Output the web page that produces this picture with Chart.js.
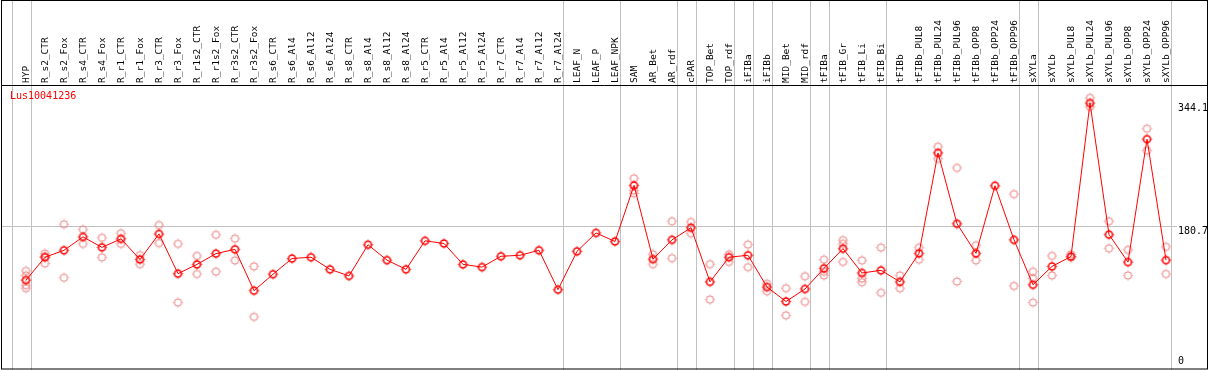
<!DOCTYPE html>
<html>
<head>
<meta charset="utf-8">
<script src="https://cdn.jsdelivr.net/npm/chart.js@4.4.1/dist/chart.umd.min.js"></script>
<style>
  html, body { margin: 0; padding: 0; background: #fff; }
  #wrap { width: 1209px; height: 370px; }
</style>
</head>
<body>
<div id="wrap"><canvas id="expr-chart" width="1209" height="370"></canvas></div>
<script>
const geneName = 'Lus10041236';

const categories = [
    'HYP', 'R_s2_CTR', 'R_s2_Fox', 'R_s4_CTR', 'R_s4_Fox', 'R_r1_CTR', 'R_r1_Fox', 'R_r3_CTR', 'R_r3_Fox',
    'R_r1s2_CTR', 'R_r1s2_Fox', 'R_r3s2_CTR', 'R_r3s2_Fox', 'R_s6_CTR', 'R_s6_Al4', 'R_s6_Al12', 'R_s6_Al24',
    'R_s8_CTR', 'R_s8_Al4', 'R_s8_Al12', 'R_s8_Al24', 'R_r5_CTR', 'R_r5_Al4', 'R_r5_Al12', 'R_r5_Al24',
    'R_r7_CTR', 'R_r7_Al4', 'R_r7_Al12', 'R_r7_Al24', 'LEAF_N', 'LEAF_P', 'LEAF_NPK', 'SAM', 'AR_Bet', 'AR_rdf',
    'cPAR', 'TOP_Bet', 'TOP_rdf', 'iFIBa', 'iFIBb', 'MID_Bet', 'MID_rdf', 'tFIBa', 'tFIB_Gr', 'tFIB_Li', 'tFIB_Bi',
    'tFIBb', 'tFIBb_PUL8', 'tFIBb_PUL24', 'tFIBb_PUL96', 'tFIBb_OPP8', 'tFIBb_OPP24', 'tFIBb_OPP96', 'sXYLa',
    'sXYLb', 'sXYLb_PUL8', 'sXYLb_PUL24', 'sXYLb_PUL96', 'sXYLb_OPP8', 'sXYLb_OPP24', 'sXYLb_OPP96'
];

// mean expression per sample
const means = [
    108.8, 139.2, 148.4, 166.2, 152.3, 163.6, 136.2, 170.2, 117.4, 129.7, 144.0, 149.7, 94.8,
    116.6, 137.5, 139.2, 123.1, 114.4, 155.8, 135.3, 123.1, 161.0, 157.5, 129.7, 126.1, 140.5, 141.8, 148.4, 96.1,
    147.0, 171.5, 160.1, 234.6, 136.6, 162.3, 178.4, 106.5, 139.2, 141.8, 99.6, 80.4, 97.0, 124.4, 150.6, 118.3, 121.8, 106.5,
    144.4, 277.8, 183.7, 144.4, 234.2, 162.3, 102.6, 127.0, 140.1, 344.1, 169.3, 132.7, 296.1, 135.3
];

// individual replicates, one small list per sample
const replicates = [
    [121, 115, 102, 98], [144, 140, 131], [183, 112], [176, 157], [165, 139], [171, 157], [142, 130],
    [182, 158], [157, 79], [141, 117], [169, 120], [164, 135], [127, 60],
    [], [], [], [], [], [], [], [], [], [], [], [], [], [], [], [], [], [], [],
    [244, 228, 224], [143, 130], [187, 138], [186, 171], [130, 83], [143, 133], [156, 126], [104, 94],
    [98, 62], [114, 80], [136, 120, 115], [162, 157, 133], [135, 111, 106], [152, 92], [115, 98],
    [152, 136], [286, 270], [258, 107], [155, 135], [], [223, 101], [120, 111, 79], [141, 115],
    [143, 139], [351, 339], [187, 151], [149, 115], [310, 281], [153, 117]
];

const yTicks = [0, 180.7, 344.1];
// a grey separator is drawn after each of these samples (-1 = before the first)
const groupEnds = [-1, 0, 28, 31, 34, 35, 37, 38, 39, 41, 42, 45, 52, 53, 60];

const monoFont = "'DejaVu Sans Mono', monospace";

function makeMarker(colour, width) {
    // small circle with four tick marks, like the original plot symbol
    let c = document.createElement('canvas');
    c.width = 15;
    c.height = 15;
    let ctx = c.getContext('2d');
    ctx.strokeStyle = colour;
    ctx.lineWidth = width;
    ctx.beginPath();
    ctx.arc(7.5, 7.5, 3.5, 0, Math.PI * 2);
    ctx.stroke();
    ctx.lineWidth = 1;
    ctx.beginPath();
    ctx.moveTo(7.5, 2.5); ctx.lineTo(7.5, 3.5);
    ctx.moveTo(7.5, 11.5); ctx.lineTo(7.5, 12.5);
    ctx.moveTo(2.5, 7.5); ctx.lineTo(3.5, 7.5);
    ctx.moveTo(11.5, 7.5); ctx.lineTo(12.5, 7.5);
    ctx.stroke();
    return c;
}

function replicatePoints() {
    let pts = [];
    replicates.forEach((list, i) => {
        list.forEach(v => pts.push({x: categories[i], y: v}));
    });
    return pts;
}

const framePlugin = {
    id: 'frame',
    beforeDatasetsDraw(chart) {
        let ctx = chart.ctx;
        let xs = chart.scales.x;
        let ys = chart.scales.y;
        ctx.save();
        ctx.strokeStyle = '#c0c0c0';
        ctx.lineWidth = 1;
        // horizontal reference line
        let gy = Math.round(ys.getPixelForValue(yTicks[1])) + 0.5;
        ctx.beginPath();
        ctx.moveTo(1, gy);
        ctx.lineTo(1177, gy);
        ctx.stroke();
        // group separators
        groupEnds.forEach(i => {
            let gx = Math.round(xs.getPixelForValue(i) + 4.5) + 0.5;
            ctx.beginPath();
            ctx.moveTo(gx, 0);
            ctx.lineTo(gx, 370);
            ctx.stroke();
        });
        ctx.restore();
    },
    afterDraw(chart) {
        let ctx = chart.ctx;
        let ys = chart.scales.y;
        ctx.save();
        ctx.strokeStyle = '#000';
        ctx.lineWidth = 1;
        ctx.strokeRect(1.5, 0.5, 1206, 368.5);
        ctx.beginPath();
        ctx.moveTo(1, 85.5);
        ctx.lineTo(1208, 85.5);
        ctx.stroke();

        ctx.font = '10px ' + monoFont;
        ctx.fillStyle = '#000';
        ctx.textAlign = 'left';
        yTicks.forEach(v => {
            let py = ys.getPixelForValue(v);
            if (py + 10 > 367) {
                ctx.textBaseline = 'bottom';
                ctx.fillText(String(v), 1178, 366);
            } else {
                ctx.textBaseline = 'top';
                ctx.fillText(String(v), 1178, py);
            }
        });

        ctx.fillStyle = '#ff0000';
        ctx.textBaseline = 'top';
        ctx.fillText(geneName, 10, 91);
        ctx.restore();
    }
};

let el = document.getElementById('expr-chart');
let config = {
    type: 'line',
    data: {
        labels: categories,
        datasets: [
            {
                label: 'mean',
                data: means,
                borderColor: '#ff0000',
                borderWidth: 1,
                pointStyle: makeMarker('#ff0000', 1.6),
                pointRadius: 7,
                tension: 0,
                fill: false
            },
            {
                type: 'scatter',
                label: 'replicates',
                data: replicatePoints(),
                showLine: false,
                pointStyle: makeMarker('rgb(236,140,140)', 1.1),
                pointRadius: 7
            }
        ]
    },
    options: {
        responsive: false,
        animation: false,
        devicePixelRatio: 1,
        layout: {
            padding: {left: 16.5, right: 0, top: 0, bottom: 3.5}
        },
        plugins: {
            legend: {display: false},
            tooltip: {enabled: false},
            title: {display: false}
        },
        scales: {
            x: {
                type: 'category',
                position: 'top',
                offset: true,
                grid: {display: false, drawTicks: false},
                border: {display: false},
                ticks: {
                    autoSkip: false,
                    minRotation: 90,
                    maxRotation: 90,
                    padding: 3,
                    labelOffset: 12,
                    color: '#000',
                    font: {family: monoFont, size: 9.5}
                },
                afterFit: function (scale) {
                    scale.height = 86;
                }
            },
            y: {
                position: 'right',
                min: 0,
                max: 366.7,
                grid: {display: false},
                border: {display: false},
                ticks: {display: false},
                afterFit: function (scale) {
                    scale.width = 33.5;
                }
            }
        }
    },
    plugins: [framePlugin]
};
new Chart(el, config);
</script>
</body>
</html>
